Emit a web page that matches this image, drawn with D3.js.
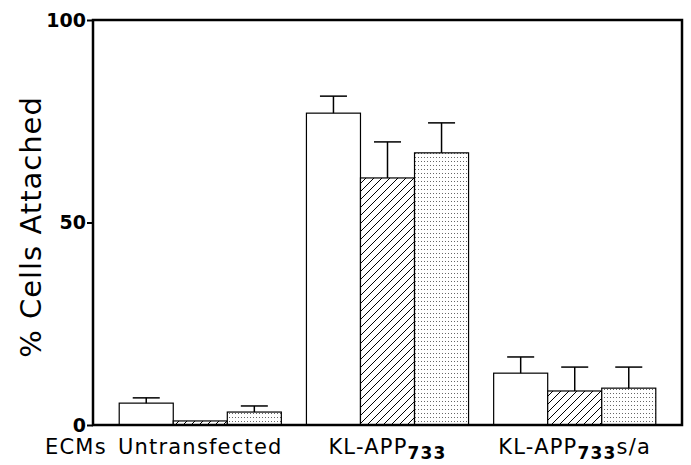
<!DOCTYPE html>
<html>
<head>
<meta charset="utf-8">
<script src="https://cdn.jsdelivr.net/npm/d3@7"></script>
<style>
  html, body { margin: 0; padding: 0; background: #fff; }
  svg { display: block; }
</style>
</head>
<body>
<svg id="chart" width="691" height="465"></svg>
<script>
// ---- data ----
const groups = ["Untransfected", "KL-APP733", "KL-APP733s/a"];
const groupLabelMain = ["Untransfected", "KL-APP", "KL-APP"];
const groupLabelSub = ["", "733", "733"];
const groupLabelTail = ["", "", "s/a"];
const seriesKeys = ["open", "hatched", "dotted"];
const openVals = [5.4, 77.0, 12.8];
const hatchedVals = [1.0, 61.0, 8.4];
const dottedVals = [3.2, 67.2, 9.1];
const openErr = [1.3, 4.2, 4.0];
const hatchedErr = [0, 8.9, 5.9];
const dottedErr = [1.5, 7.4, 5.2];
const yTicks = [0, 50, 100];
const yTitle = "% Cells Attached";
const xTitle = "ECMs";

const values = { open: openVals, hatched: hatchedVals, dotted: dottedVals };
const errors = { open: openErr, hatched: hatchedErr, dotted: dottedErr };

// ---- layout ----
const svg = d3.select("#chart");
const mLeft = 93, mRight = 682, mTop = 20, mBottom = 425;

const x0 = d3.scaleBand().domain(groups).range([mLeft, mRight])
  .paddingInner(0.134).paddingOuter(0.14);
const x1 = d3.scaleBand().domain(seriesKeys).range([0, x0.bandwidth()]).padding(0);
const y = d3.scaleLinear().domain([0, 100]).range([mBottom, mTop]);

// patterns
const defs = svg.append("defs");
const hatch = defs.append("pattern").attr("id", "hatch")
  .attr("patternUnits", "userSpaceOnUse").attr("width", 8).attr("height", 8);
hatch.append("rect").attr("width", 8).attr("height", 8).attr("fill", "#fff");
hatch.append("path").attr("d", "M-2,2 l4,-4 M0,8 l8,-8 M6,10 l4,-4")
  .attr("stroke", "#000").attr("stroke-width", 1);
const dots = defs.append("pattern").attr("id", "dots")
  .attr("patternUnits", "userSpaceOnUse").attr("width", 3).attr("height", 4);
dots.append("rect").attr("width", 3).attr("height", 4).attr("fill", "#fff");
dots.append("rect").attr("x", 1).attr("y", 1).attr("width", 1).attr("height", 1).attr("fill", "#666");

const fills = { open: "#fff", hatched: "url(#hatch)", dotted: "url(#dots)" };

// bars
const flat = [];
groups.forEach((g, i) => seriesKeys.forEach(k => flat.push({ g, i, k, v: values[k][i], e: errors[k][i] })));

svg.append("g").selectAll("rect").data(flat).join("rect")
  .attr("x", d => x0(d.g) + x1(d.k))
  .attr("y", d => y(d.v))
  .attr("width", x1.bandwidth())
  .attr("height", d => y(0) - y(d.v))
  .attr("fill", d => fills[d.k])
  .attr("stroke", "#000")
  .attr("stroke-width", 1.2);

// error bars (upper only)
const eb = svg.append("g").attr("stroke", "#000").attr("stroke-width", 1.5);
const withErr = flat.filter(d => d.e > 0);
const capW = x1.bandwidth() * 0.5;
eb.selectAll("line.v").data(withErr).join("line").attr("class", "v")
  .attr("x1", d => x0(d.g) + x1(d.k) + x1.bandwidth() / 2)
  .attr("x2", d => x0(d.g) + x1(d.k) + x1.bandwidth() / 2)
  .attr("y1", d => y(d.v))
  .attr("y2", d => y(d.v + d.e));
eb.selectAll("line.c").data(withErr).join("line").attr("class", "c")
  .attr("x1", d => x0(d.g) + x1(d.k) + x1.bandwidth() / 2 - capW / 2)
  .attr("x2", d => x0(d.g) + x1(d.k) + x1.bandwidth() / 2 + capW / 2)
  .attr("y1", d => y(d.v + d.e))
  .attr("y2", d => y(d.v + d.e));

// frame
svg.append("rect")
  .attr("x", mLeft).attr("y", mTop)
  .attr("width", mRight - mLeft).attr("height", mBottom - mTop)
  .attr("fill", "none").attr("stroke", "#000").attr("stroke-width", 2.5);

// y axis
const yAxis = svg.append("g").attr("transform", `translate(${mLeft},0)`)
  .call(d3.axisLeft(y).tickValues(yTicks).tickSize(6).tickPadding(1));
yAxis.select(".domain").remove();
yAxis.selectAll(".tick line").attr("stroke", "#000").attr("stroke-width", 2);
yAxis.selectAll(".tick text")
  .attr("font-family", "DejaVu Sans").attr("font-weight", "bold")
  .attr("font-size", 19).attr("fill", "#000");

// y title
svg.append("text")
  .attr("transform", "translate(41,227) rotate(-90)")
  .attr("text-anchor", "middle")
  .attr("font-family", "DejaVu Sans").attr("font-size", 29)
  .attr("letter-spacing", 1)
  .attr("fill", "#000")
  .text(yTitle);

// x labels
const xl = svg.append("g")
  .attr("font-family", "DejaVu Sans").attr("font-size", 21)
  .attr("letter-spacing", 1.2).attr("fill", "#000");
xl.append("text").attr("x", 45).attr("y", 454).text(xTitle);
groups.forEach((g, i) => {
  const t = xl.append("text")
    .attr("x", x0(g) + x0.bandwidth() / 2).attr("y", 454)
    .attr("text-anchor", "middle");
  t.append("tspan").text(groupLabelMain[i]);
  if (groupLabelSub[i]) {
    t.append("tspan").attr("font-size", 17).attr("font-weight", "bold")
      .attr("dy", 5).text(groupLabelSub[i]);
  }
  if (groupLabelTail[i]) {
    t.append("tspan").attr("dy", -5).text(groupLabelTail[i]);
  }
});
</script>
</body>
</html>
